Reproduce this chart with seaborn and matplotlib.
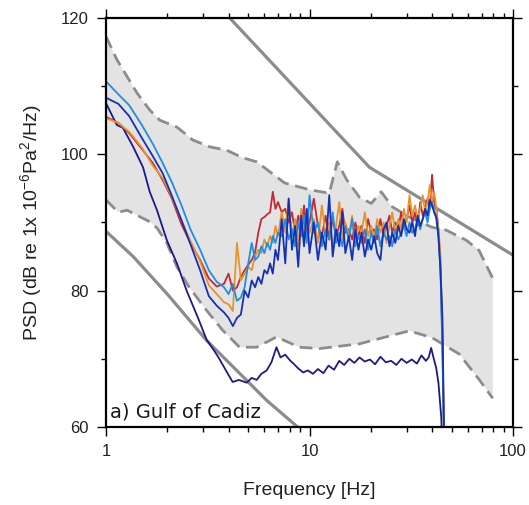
import matplotlib
matplotlib.use("Agg")
import matplotlib.pyplot as plt
import matplotlib.ticker as mticker
import numpy as np
import pandas as pd
import seaborn as sns

# ---------------- data ----------------
# shared frequency grid of the four "cluster" spectra (Hz)
FREQ_LO = [1.0, 1.15, 1.3, 1.5, 1.7, 1.9, 2.1, 2.35, 2.6, 2.9, 3.2, 3.5, 3.8]
FREQ_HI = [4.0, 4.2, 4.4, 4.6, 4.8, 5.0, 5.2, 5.4, 5.6, 5.8, 6.0, 6.2, 6.4, 6.6, 6.8, 7.0,
           7.3, 7.6, 7.9, 8.2, 8.5, 8.8, 9.1, 9.4, 9.7, 10.0,
           10.5, 11.0, 11.5, 12.0, 12.5, 13.0, 13.5, 14.0, 14.5, 15.0,
           15.6, 16.2, 16.8, 17.4, 18.0, 18.7, 19.4, 20.1,
           20.8, 21.5, 22.3, 23.1, 23.9, 24.7, 25.5, 26.4, 27.3, 28.2, 29.1, 30.0,
           31.0, 32.0, 33.0, 34.0, 35.0, 36.0, 37.0, 38.0, 39.0, 40.0, 41.0, 42.0, 43.0]
FREQ_END = [44.0, 45.0, 46.0]

RED_LO = [105.5, 104.6, 103.1, 100.8, 98.7, 96.2, 93.6, 89.7, 87.0, 84.5, 81.8, 80.6, 81.0]
RED_HI = [82.5, 80.0, 80.5, 82.0, 83.0, 83.8, 84.5, 85.6, 88.5, 90.5, 90.8, 91.2, 91.5, 94.5, 92.0, 93.0,
          91.5, 92.0, 90.0, 91.5, 88.5, 91.0, 89.0, 92.5, 88.0, 90.0,
          93.5, 89.5, 88.0, 91.0, 87.5, 90.5, 88.0, 89.5, 92.0, 88.5,
          89.0, 87.5, 90.0, 88.0, 89.5, 87.0, 90.5, 88.5,
          89.0, 87.5, 90.5, 88.0, 89.5, 91.0, 88.5, 90.0, 89.0, 91.5, 89.5, 90.5,
          92.5, 90.0, 91.5, 89.5, 93.0, 91.0, 92.0, 93.5, 92.0, 97.0, 93.0, 92.0, 89.0]
RED_END = [84.0, 72.0, 55.0]

ORANGE_LO = [105.3, 104.6, 103.3, 101.0, 98.3, 96.5, 93.8, 90.3, 87.3, 84.3, 80.8, 79.5, 78.3]
ORANGE_HI = [78.0, 77.0, 87.0, 81.5, 82.5, 83.5, 83.0, 85.0, 86.0, 85.5, 87.5, 86.5, 88.0, 87.0, 89.5, 88.0,
             91.5, 88.5, 93.5, 88.0, 90.5, 86.5, 92.0, 87.0, 91.5, 88.5,
             90.5, 87.0, 92.5, 88.0, 90.0, 86.5, 89.5, 93.0, 87.5, 90.0,
             88.0, 91.0, 87.0, 89.5, 88.5, 91.5, 88.0, 89.5,
             87.5, 90.5, 88.5, 90.0, 87.0, 89.5, 91.5, 88.5, 90.5, 89.0, 92.0, 90.0,
             94.0, 91.0, 92.5, 90.5, 92.0, 94.0, 91.5, 93.0, 95.5, 93.0, 94.5, 92.0, 89.0]
ORANGE_END = [85.0, 73.0, 55.0]

LBLUE_LO = [110.7, 108.8, 107.2, 104.3, 101.5, 98.7, 96.0, 92.5, 89.0, 86.0, 83.0, 81.3, 80.5]
LBLUE_HI = [79.5, 81.0, 78.5, 79.0, 80.5, 84.0, 87.0, 84.5, 85.0, 86.5, 85.5, 87.0, 86.0, 88.0, 87.0, 88.5,
            88.0, 90.5, 87.5, 89.0, 86.5, 90.0, 88.0, 91.0, 87.0, 94.0,
            88.5, 90.0, 86.5, 89.0, 87.5, 91.5, 87.0, 88.5, 86.5, 89.5,
            87.5, 90.5, 86.5, 88.0, 87.0, 89.0, 86.0, 88.5,
            87.0, 89.5, 86.5, 88.5, 87.5, 88.0, 86.5, 89.0, 87.5, 88.5, 89.5, 88.0,
            90.0, 88.5, 89.0, 90.5, 89.0, 90.5, 91.5, 90.0, 92.0, 93.0, 91.5, 90.5, 88.0]
LBLUE_END = [83.0, 71.0, 55.0]

DBLUE_LO = [108.3, 107.4, 105.6, 102.4, 99.7, 97.2, 94.0, 90.3, 86.8, 83.0, 79.2, 77.8, 76.8]
DBLUE_HI = [76.0, 74.8, 76.0, 76.5, 80.0, 79.0, 81.5, 80.5, 82.0, 81.0, 83.0, 82.5, 84.0, 82.5, 86.0, 84.5,
            90.5, 84.0, 93.5, 86.0, 89.5, 83.5, 91.0, 86.5, 92.0, 85.5,
            90.0, 84.5, 88.5, 86.0, 94.0, 85.0, 89.0, 86.5, 91.5, 85.5,
            88.0, 84.5, 89.0, 86.0, 88.5, 85.0, 87.5, 86.0,
            88.0, 85.5, 84.5, 89.0, 90.0, 86.5, 88.5, 87.0, 89.5, 88.0, 90.5, 89.0,
            88.5, 90.0, 88.0, 91.0, 89.5, 90.5, 92.0, 91.0, 93.3, 92.5, 91.5, 90.8, 88.0]
DBLUE_END = [83.0, 76.0, 55.0]

# quiet (low) spectrum
NAVY_FREQ = [1.0, 1.13, 1.21, 1.36, 1.52, 1.64, 1.78, 1.99, 2.23, 2.49, 2.85, 3.12, 3.4, 3.62, 3.9,
             4.19, 4.5, 4.91, 5.2, 5.5, 5.8, 6.16, 6.5, 6.88, 7.2, 7.6, 8.0, 8.4, 8.8, 9.3,
             9.8, 10.4, 11.0, 11.7, 12.4, 13.2, 14.0, 14.8, 15.7, 16.6, 17.6, 18.7, 19.8, 21.0,
             22.3, 23.7, 25.2, 26.7, 28.3, 30.0, 31.8, 33.7, 35.5, 37.3, 38.5, 39.6, 40.8, 41.9,
             43.0, 44.4, 45.2]
NAVY_DB = [107.5, 104.3, 103.9, 101.1, 98.1, 94.5, 91.8, 87.4, 84.0, 80.0, 75.8, 72.8, 71.2, 69.9, 68.2,
           66.6, 66.9, 66.5, 67.2, 66.9, 67.8, 68.3, 69.5, 71.7, 70.2, 70.6, 69.8, 69.2, 68.6, 68.0,
           68.3, 67.8, 68.5, 67.9, 69.0, 68.4, 69.7, 69.1, 70.0, 69.4, 70.2, 69.6, 69.9, 69.2,
           70.3, 69.5, 69.7, 69.1, 70.0, 69.4, 69.9, 69.3, 70.5, 69.7, 70.2, 71.6, 70.0, 68.7,
           66.5, 61.4, 55.0]

# percentile envelope (dashed) and shading
UPPER_F = [1.0, 1.13, 1.27, 1.42, 1.64, 1.84, 2.23, 2.67, 3.23, 3.92, 4.69, 5.50, 7.54, 10.0,
           12.5, 13.7, 15.2, 17.6, 20.1, 22.5, 25.5, 30.9, 40.0, 46.8, 58.9, 68.1, 79.5]
UPPER_DB = [117.3, 113.9, 111.4, 109.0, 106.5, 105.0, 104.0, 102.1, 101.1, 100.6, 99.5, 98.9, 95.8, 94.8,
            94.3, 98.9, 96.3, 93.7, 92.8, 94.5, 92.3, 90.8, 89.3, 88.9, 87.4, 85.9, 81.8]
LOWER_F = [1.0, 1.15, 1.27, 1.64, 1.78, 1.99, 2.23, 2.55, 3.12, 3.74, 4.53, 5.50, 6.88, 8.93,
           11.2, 17.6, 30.9, 40.0, 54.4, 68.0, 79.5]
LOWER_DB = [93.3, 91.5, 91.8, 90.1, 89.2, 87.0, 83.5, 80.6, 77.1, 74.2, 71.7, 71.7, 73.2, 71.7,
            71.5, 72.2, 74.1, 73.1, 70.7, 67.0, 64.2]

# reference (solid grey) curves
HIGH_F = [3.8, 19.7, 100.0]
HIGH_DB = [120.9, 98.1, 85.2]
LOW_F = [1.0, 1.36, 2.0, 3.12, 6.16, 10.0]
LOW_DB = [88.7, 85.0, 79.5, 72.7, 63.9, 58.5]

X_TICKS = [1, 10, 100]
X_TICK_LABELS = ["1", "10", "100"]
Y_TICKS = [60, 80, 100, 120]
Y_MINOR = [70, 90, 110]
X_LABEL = "Frequency [Hz]"
Y_LABEL = "PSD (dB re 1x 10$^{-6}$Pa$^{2}$/Hz)"
PANEL = "a) Gulf of Cadiz"

# ---------------- frames ----------------
freq = FREQ_LO + FREQ_HI + FREQ_END
series = {
    "red": RED_LO + RED_HI + RED_END,
    "orange": ORANGE_LO + ORANGE_HI + ORANGE_END,
    "lblue": LBLUE_LO + LBLUE_HI + LBLUE_END,
    "dblue": DBLUE_LO + DBLUE_HI + DBLUE_END,
}
spec = pd.concat([pd.DataFrame({"freq": freq, "psd": v, "name": k}) for k, v in series.items()],
                 ignore_index=True)
navy = pd.DataFrame({"freq": NAVY_FREQ, "psd": NAVY_DB})
upper = pd.DataFrame({"freq": UPPER_F, "psd": UPPER_DB})
lower = pd.DataFrame({"freq": LOWER_F, "psd": LOWER_DB})
high = pd.DataFrame({"freq": HIGH_F, "psd": HIGH_DB})
low = pd.DataFrame({"freq": LOW_F, "psd": LOW_DB})

# ---------------- style ----------------
sns.set_style("ticks")
plt.rcParams["font.family"] = ["Liberation Sans", "DejaVu Sans"]
plt.rcParams["mathtext.fontset"] = "custom"
plt.rcParams["mathtext.rm"] = "Liberation Sans"
plt.rcParams["mathtext.it"] = "Liberation Sans:italic"
plt.rcParams["mathtext.bf"] = "Liberation Sans:bold"
plt.rcParams["mathtext.default"] = "regular"

GREY = "#8c8c8c"
SHADE = "#e3e3e3"
palette = {"red": "#c22a33", "orange": "#e8922f", "lblue": "#1f8ee0", "dblue": "#1530b5"}

fig = plt.figure(figsize=(5.29, 5.05), dpi=100)
ax = fig.add_axes([0.2004, 0.1545, 0.7694, 0.8099])
ax.set_xscale("log")

# shaded envelope
ax.fill(np.concatenate([upper["freq"].values, lower["freq"].values[::-1]]),
        np.concatenate([upper["psd"].values, lower["psd"].values[::-1]]),
        color=SHADE, lw=0, zorder=1)

dash = (0, (4.6, 2.4))
sns.lineplot(data=upper, x="freq", y="psd", ax=ax, color=GREY, lw=2.0,
             linestyle=dash, estimator=None, errorbar=None, zorder=2)
sns.lineplot(data=lower, x="freq", y="psd", ax=ax, color=GREY, lw=2.0,
             linestyle=dash, estimator=None, errorbar=None, zorder=2)
sns.lineplot(data=high, x="freq", y="psd", ax=ax, color=GREY, lw=2.3,
             estimator=None, errorbar=None, zorder=2)
sns.lineplot(data=low, x="freq", y="psd", ax=ax, color=GREY, lw=2.3,
             estimator=None, errorbar=None, zorder=2)

sns.lineplot(data=navy, x="freq", y="psd", ax=ax, color="#1c1a8a", lw=1.3,
             estimator=None, errorbar=None, zorder=3)
sns.lineplot(data=spec, x="freq", y="psd", hue="name", hue_order=["red", "orange", "lblue", "dblue"],
             palette=palette, ax=ax, lw=1.3, estimator=None, errorbar=None,
             legend=False, zorder=4)

ax.set_xlim(1, 100)
ax.set_ylim(60, 120)

ax.xaxis.set_major_locator(mticker.FixedLocator(X_TICKS))
ax.xaxis.set_major_formatter(mticker.FixedFormatter(X_TICK_LABELS))
ax.xaxis.set_minor_locator(mticker.LogLocator(base=10, subs=np.arange(2, 10)))
ax.xaxis.set_minor_formatter(mticker.NullFormatter())
ax.yaxis.set_major_locator(mticker.FixedLocator(Y_TICKS))
ax.yaxis.set_minor_locator(mticker.FixedLocator(Y_MINOR))

for s in ax.spines.values():
    s.set_visible(True)
    s.set_linewidth(1.6)
    s.set_color("black")
    s.set_zorder(6)

ax.tick_params(which="both", direction="out", top=True, right=True, color="black")
ax.tick_params(which="major", length=6.5, width=1.0, labelsize=12, pad=6, labelcolor="#222222")
ax.tick_params(which="minor", length=3.5, width=1.0)

ax.set_xlabel(X_LABEL, fontsize=14, labelpad=16, color="#222222")
ax.set_ylabel(Y_LABEL, fontsize=14, labelpad=12, color="#222222")

ax.text(0.01, 0.022, PANEL, transform=ax.transAxes, fontsize=14, family="DejaVu Sans",
        ha="left", va="baseline", color="#1a1a1a", zorder=7)

fig.savefig("out.png", dpi=100)
